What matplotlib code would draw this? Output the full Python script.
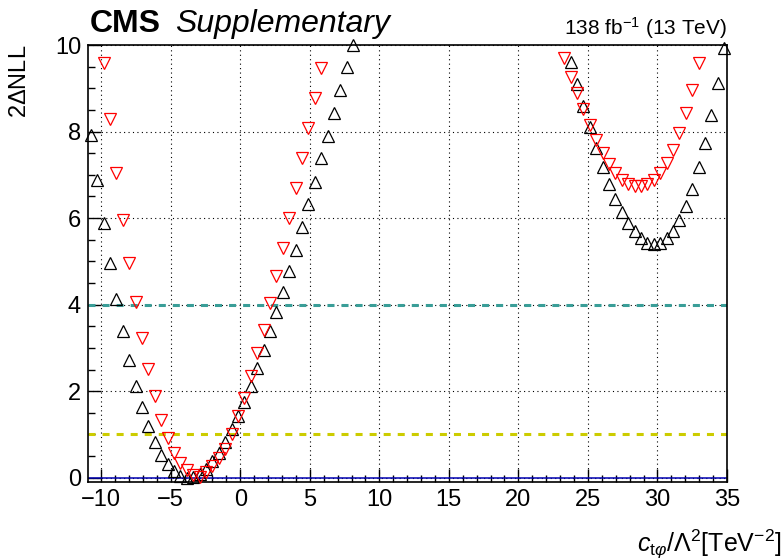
import matplotlib
matplotlib.use('Agg')
import matplotlib.pyplot as plt
from matplotlib.ticker import MultipleLocator

plt.rcParams['font.family'] = ['Liberation Sans', 'DejaVu Sans']
plt.rcParams['mathtext.fontset'] = 'custom'
plt.rcParams['mathtext.rm'] = 'Liberation Sans'
plt.rcParams['mathtext.it'] = 'Liberation Sans:italic'

# scan points, black (up triangles) and red (down triangles)
black_x = [-10.74, -10.28, -9.82, -9.36, -8.90, -8.44, -7.98, -7.52, -7.06, -6.60,
           -6.14, -5.68, -5.22, -4.76, -4.30, -3.84, -3.38, -2.92, -2.46, -2.00,
           -1.54, -1.08, -0.62, -0.16, 0.30, 0.76, 1.22, 1.68, 2.14, 2.60,
           3.06, 3.52, 3.98, 4.44, 4.90, 5.36, 5.82, 6.28, 6.74, 7.20,
           7.66, 8.12,
           23.76, 24.22, 24.68, 25.14, 25.60, 26.06, 26.52, 26.98, 27.44, 27.90,
           28.36, 28.82, 29.28, 29.74, 30.20, 30.66, 31.12, 31.58, 32.04, 32.50,
           32.96, 33.42, 33.88, 34.34, 34.80]
black_y = [7.92, 6.87, 5.88, 4.96, 4.13, 3.39, 2.72, 2.12, 1.63, 1.20,
           0.82, 0.52, 0.31, 0.15, 0.05, 0.00, 0.02, 0.09, 0.20, 0.38,
           0.58, 0.82, 1.12, 1.42, 1.76, 2.12, 2.53, 2.96, 3.38, 3.84,
           4.28, 4.78, 5.27, 5.79, 6.33, 6.84, 7.38, 7.90, 8.44, 8.96,
           9.50, 10.00,
           9.60, 9.10, 8.59, 8.10, 7.61, 7.19, 6.79, 6.44, 6.13, 5.88,
           5.69, 5.54, 5.43, 5.40, 5.43, 5.54, 5.70, 5.96, 6.28, 6.67,
           7.17, 7.73, 8.38, 9.12, 9.94]

red_x = [-9.82, -9.36, -8.90, -8.44, -7.98, -7.52, -7.06, -6.60, -6.14, -5.68,
         -5.22, -4.76, -4.30, -3.84, -3.38, -2.92, -2.46, -2.00, -1.54, -1.08,
         -0.62, -0.16, 0.30, 0.76, 1.22, 1.68, 2.14, 2.60, 3.06, 3.52,
         3.98, 4.44, 4.90, 5.36, 5.82,
         23.30, 23.76, 24.22, 24.68, 25.14, 25.60, 26.06, 26.52, 26.98, 27.44,
         27.90, 28.36, 28.82, 29.28, 29.74, 30.20, 30.66, 31.12, 31.58, 32.04,
         32.50, 32.96]
red_y = [9.58, 8.28, 7.05, 5.96, 4.96, 4.05, 3.23, 2.52, 1.88, 1.34,
         0.92, 0.58, 0.34, 0.17, 0.06, 0.02, 0.12, 0.26, 0.45, 0.67,
         1.02, 1.42, 1.84, 2.34, 2.87, 3.42, 4.03, 4.67, 5.32, 6.00,
         6.69, 7.38, 8.09, 8.78, 9.46,
         9.69, 9.27, 8.88, 8.51, 8.14, 7.81, 7.51, 7.25, 7.04, 6.88,
         6.78, 6.73, 6.73, 6.78, 6.87, 7.04, 7.27, 7.58, 7.96, 8.42,
         8.96, 9.58]

# reference levels of 2*dNLL
levels = [0, 1, 4]
level_colors = ['#0000b0', '#cccc00', '#3a9e98']

fig = plt.figure(figsize=(7.84, 5.6), dpi=100)
ax = fig.add_axes([0.1122, 0.1393, 0.8151, 0.7803])

ax.axhline(levels[0], color=level_colors[0], lw=1.1)
ax.axhline(levels[1], color=level_colors[1], lw=2.2, dashes=(2.3, 2.3))
ax.axhline(levels[2], color=level_colors[2], lw=2.2, dashes=(2.3, 2.3))

ax.plot(black_x, black_y, ls='none', marker='^', ms=8, mfc='none',
        mec='black', mew=0.9, clip_on=False, zorder=3)
ax.plot(red_x, red_y, ls='none', marker='v', ms=8, mfc='none',
        mec='red', mew=0.9, clip_on=False, zorder=3)

ax.set_xlim(-10.95, 35)
ax.set_ylim(-0.1, 10)
ax.xaxis.set_major_locator(MultipleLocator(5))
ax.xaxis.set_minor_locator(MultipleLocator(1))
ax.yaxis.set_major_locator(MultipleLocator(2))
ax.yaxis.set_minor_locator(MultipleLocator(0.5))
ax.grid(which='major', color='black', ls=(0, (1, 3)), lw=0.8)
ax.tick_params(which='both', direction='in', top=False, right=False,
               labelsize=17, width=1)
ax.tick_params(which='major', length=9.5, pad=5)
ax.tick_params(which='minor', length=4.7)
for s in ax.spines.values():
    s.set_linewidth(1.2)

ax.set_xlabel(r'$c_{\mathrm{t}\varphi}/\Lambda^{2}[\mathrm{TeV}^{-2}]$',
              fontsize=18, ha='right', x=1.085, labelpad=12)
fig.text(0.026, 0.92, r'2$\Delta$NLL', rotation=90, fontsize=17,
         ha='center', va='top')

fig.text(0.114, 0.943, 'CMS', fontsize=23, fontweight='bold', ha='left', va='baseline')
fig.text(0.223, 0.943, 'Supplementary', fontsize=23, fontstyle='italic',
         ha='left', va='baseline')
fig.text(0.9273, 0.938, r'138 fb$^{-1}$ (13 TeV)', fontsize=15,
         ha='right', va='baseline')

fig.savefig('out.png', dpi=100)
